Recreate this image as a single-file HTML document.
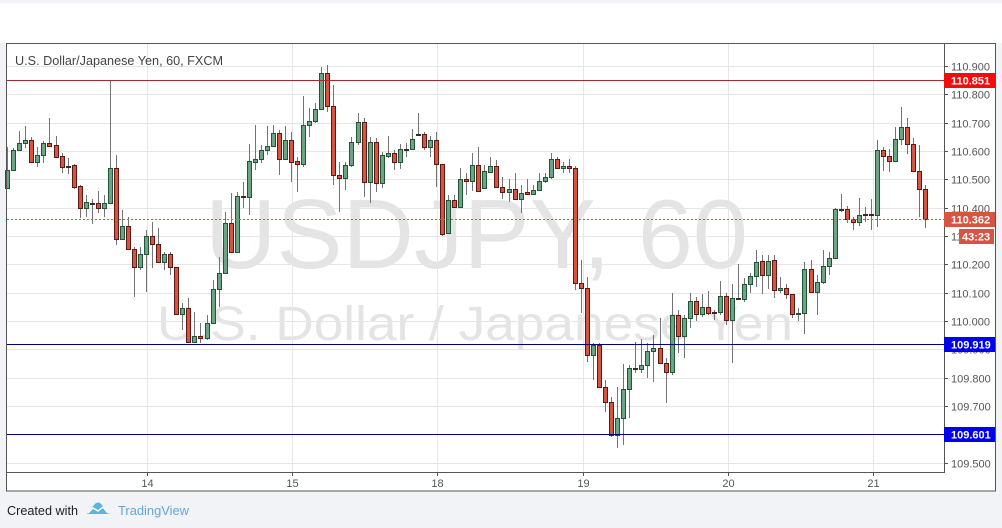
<!DOCTYPE html>
<html><head><meta charset="utf-8"><style>
html,body{margin:0;padding:0;background:#f1f3f6;}
svg{display:block;font-family:"Liberation Sans",Arial,sans-serif;}
.u{fill:#6ba583;stroke:#225437;stroke-width:1}
.d{fill:#d75442;stroke:#5b1a13;stroke-width:1}
.f{fill:#3c2a22;stroke:#3c2a22;stroke-width:1}
.pl{font-size:11px;fill:#555}
.lb{font-size:11px;fill:#fff;font-weight:bold}
</style></head><body>
<svg width="1002" height="528" viewBox="0 0 1002 528" xmlns="http://www.w3.org/2000/svg">
<rect x="0" y="0" width="1002" height="528" fill="#f1f3f6"/>
<rect x="0" y="3" width="1002" height="40" fill="#ffffff"/>
<rect x="6.5" y="43.5" width="989" height="447.5" fill="#ffffff"/>
<text x="205" y="268" font-size="98" fill="#e4e4e4" textLength="543" lengthAdjust="spacingAndGlyphs">USDJPY, 60</text>
<text x="157" y="340" font-size="48" fill="#e4e4e4" textLength="636" lengthAdjust="spacingAndGlyphs">U.S. Dollar / Japanese Yen</text>
<g stroke="#e6e6e6" stroke-width="1">
<path d="M7 66.5H944M7 94.5H944M7 123.5H944M7 151.5H944M7 179.5H944M7 208.5H944M7 236.5H944M7 264.5H944M7 293.5H944M7 321.5H944M7 349.5H944M7 378.5H944M7 406.5H944M7 434.5H944M7 463.5H944"/>
<path d="M147.5 43V472M292.5 43V472M437.5 43V472M583.5 43V472M728.5 43V472M873.5 43V472"/>
</g>
<text x="15" y="65" font-size="13" fill="#444" textLength="208" lengthAdjust="spacingAndGlyphs">U.S. Dollar/Japanese Yen, 60, FXCM</text>
<path fill="none" stroke="#737375" stroke-width="1" d="M7.5 147V188M13.5 148V170M19.5 131V150M25.5 126V148M31.5 137V163M37.5 147V167M43.5 141V163M49.5 118V147M56.5 136V157M62.5 153V173M68.5 158V174M74.5 164V189M80.5 185V218M86.5 195V217M92.5 199V224M98.5 191V213M104.5 195V217M110.5 81V203M116.5 155V245M122.5 210V239M128.5 217V249M134.5 247V297M140.5 247V270M146.5 230V292M152.5 222V268M158.5 228V262M164.5 252V270M170.5 252V275M176.5 267V315M182.5 303V330M188.5 298V343M194.5 312V343M200.5 323V343M207.5 315V340M213.5 280V323M219.5 257V307M225.5 212V273M231.5 193V252M237.5 192V252M243.5 182V208M249.5 144V215M255.5 125V170M261.5 145V163M267.5 126V155M273.5 125V147M279.5 130V175M285.5 126V160M291.5 132V182M297.5 157V192M303.5 96V167M309.5 108V137M315.5 103V123M321.5 67V110M327.5 65V112M333.5 85V185M339.5 162V212M345.5 162V190M351.5 137V167M358.5 113V145M364.5 118V197M370.5 137V203M376.5 138V192M382.5 152V188M388.5 136V158M394.5 150V170M400.5 144V169M406.5 143V157M412.5 129V150M418.5 113V135M424.5 132V150M430.5 136V157M436.5 132V187M442.5 164V236M448.5 195V233M454.5 195V208M460.5 168V207M466.5 173V195M472.5 153V191M478.5 147V192M484.5 165V189M490.5 157V173M496.5 160V187M502.5 177V199M509.5 179V202M515.5 173V199M521.5 185V213M527.5 179V195M533.5 185V195M539.5 173V191M545.5 173V183M551.5 153V179M557.5 157V169M563.5 162V173M569.5 159V173M575.5 166V290M581.5 260V313M587.5 277V362M593.5 343V380M599.5 343V388M605.5 380V412M611.5 397V437M617.5 387V448M623.5 364V445M629.5 365V418M635.5 342V373M641.5 339V373M647.5 343V378M653.5 335V382M660.5 318V363M666.5 358V403M672.5 293V375M678.5 310V353M684.5 315V358M690.5 293V328M696.5 297V321M702.5 294V317M708.5 291V315M714.5 310V320M720.5 281V315M726.5 293V325M732.5 284V363M738.5 264V300M744.5 278V302M750.5 273V293M756.5 250V287M762.5 255V294M768.5 255V289M774.5 255V298M780.5 277V293M786.5 284V299M792.5 294V318M798.5 308V321M804.5 262V334M811.5 260V293M817.5 275V315M823.5 250V284M829.5 252V275M835.5 208V259M841.5 194V212M847.5 206V223M853.5 217V230M859.5 198V226M865.5 207V222M871.5 199V230M877.5 140V227M883.5 147V171M889.5 149V172M895.5 127V162M901.5 107V145M907.5 118V154M913.5 138V172M919.5 145V217M925.5 185V228"/>
<g class="u">
<rect x="5.5" y="170.5" width="4" height="18"/><rect x="11.5" y="150.5" width="4" height="20"/><rect x="17.5" y="143.5" width="4" height="7"/><rect x="23.5" y="140.5" width="4" height="3"/><rect x="35.5" y="155.5" width="4" height="7"/><rect x="41.5" y="143.5" width="4" height="12"/><rect x="84.5" y="202.5" width="4" height="6"/><rect x="102.5" y="203.5" width="4" height="5"/><rect x="108.5" y="168.5" width="4" height="35"/><rect x="120.5" y="226.5" width="4" height="13"/><rect x="138.5" y="254.5" width="4" height="13"/><rect x="144.5" y="236.5" width="4" height="18"/><rect x="162.5" y="254.5" width="4" height="8"/><rect x="180.5" y="308.5" width="4" height="6"/><rect x="192.5" y="336.5" width="4" height="6"/><rect x="205.5" y="323.5" width="4" height="15"/><rect x="211.5" y="289.5" width="4" height="34"/><rect x="217.5" y="273.5" width="4" height="16"/><rect x="223.5" y="223.5" width="4" height="50"/><rect x="235.5" y="196.5" width="4" height="56"/><rect x="247.5" y="161.5" width="4" height="36"/><rect x="253.5" y="159.5" width="4" height="3"/><rect x="259.5" y="150.5" width="4" height="9"/><rect x="265.5" y="146.5" width="4" height="4"/><rect x="271.5" y="133.5" width="4" height="13"/><rect x="283.5" y="140.5" width="4" height="19"/><rect x="301.5" y="125.5" width="4" height="39"/><rect x="307.5" y="121.5" width="4" height="4"/><rect x="313.5" y="109.5" width="4" height="12"/><rect x="319.5" y="73.5" width="4" height="36"/><rect x="343.5" y="165.5" width="4" height="13"/><rect x="349.5" y="142.5" width="4" height="23"/><rect x="356.5" y="122.5" width="4" height="20"/><rect x="368.5" y="142.5" width="4" height="40"/><rect x="380.5" y="155.5" width="4" height="28"/><rect x="386.5" y="153.5" width="4" height="3"/><rect x="398.5" y="149.5" width="4" height="13"/><rect x="410.5" y="139.5" width="4" height="10"/><rect x="428.5" y="140.5" width="4" height="7"/><rect x="446.5" y="200.5" width="4" height="33"/><rect x="458.5" y="179.5" width="4" height="28"/><rect x="470.5" y="165.5" width="4" height="16"/><rect x="482.5" y="171.5" width="4" height="17"/><rect x="488.5" y="166.5" width="4" height="6"/><rect x="507.5" y="189.5" width="4" height="3"/><rect x="519.5" y="193.5" width="4" height="6"/><rect x="531.5" y="190.5" width="4" height="4"/><rect x="537.5" y="181.5" width="4" height="9"/><rect x="543.5" y="177.5" width="4" height="4"/><rect x="549.5" y="159.5" width="4" height="18"/><rect x="561.5" y="166.5" width="4" height="2"/><rect x="591.5" y="345.5" width="4" height="10"/><rect x="615.5" y="418.5" width="4" height="17"/><rect x="621.5" y="389.5" width="4" height="29"/><rect x="627.5" y="368.5" width="4" height="21"/><rect x="639.5" y="365.5" width="4" height="4"/><rect x="645.5" y="351.5" width="4" height="14"/><rect x="651.5" y="348.5" width="4" height="3"/><rect x="670.5" y="315.5" width="4" height="57"/><rect x="682.5" y="318.5" width="4" height="18"/><rect x="688.5" y="301.5" width="4" height="17"/><rect x="700.5" y="307.5" width="4" height="7"/><rect x="718.5" y="296.5" width="4" height="16"/><rect x="730.5" y="298.5" width="4" height="22"/><rect x="742.5" y="284.5" width="4" height="15"/><rect x="748.5" y="276.5" width="4" height="8"/><rect x="754.5" y="262.5" width="4" height="14"/><rect x="766.5" y="261.5" width="4" height="14"/><rect x="778.5" y="288.5" width="4" height="2"/><rect x="796.5" y="313.5" width="4" height="1"/><rect x="802.5" y="269.5" width="4" height="44"/><rect x="815.5" y="282.5" width="4" height="10"/><rect x="821.5" y="266.5" width="4" height="16"/><rect x="827.5" y="258.5" width="4" height="8"/><rect x="833.5" y="209.5" width="4" height="49"/><rect x="857.5" y="215.5" width="4" height="7"/><rect x="875.5" y="150.5" width="4" height="65"/><rect x="893.5" y="139.5" width="4" height="22"/><rect x="899.5" y="127.5" width="4" height="12"/>
</g>
<g class="d">
<rect x="29.5" y="140.5" width="4" height="22"/><rect x="47.5" y="143.5" width="4" height="3"/><rect x="54.5" y="145.5" width="4" height="12"/><rect x="60.5" y="156.5" width="4" height="11"/><rect x="72.5" y="165.5" width="4" height="22"/><rect x="78.5" y="186.5" width="4" height="22"/><rect x="96.5" y="203.5" width="4" height="5"/><rect x="114.5" y="168.5" width="4" height="71"/><rect x="126.5" y="226.5" width="4" height="23"/><rect x="132.5" y="249.5" width="4" height="18"/><rect x="150.5" y="236.5" width="4" height="8"/><rect x="156.5" y="244.5" width="4" height="18"/><rect x="168.5" y="254.5" width="4" height="13"/><rect x="174.5" y="267.5" width="4" height="47"/><rect x="186.5" y="308.5" width="4" height="34"/><rect x="198.5" y="336.5" width="4" height="2"/><rect x="229.5" y="223.5" width="4" height="29"/><rect x="277.5" y="133.5" width="4" height="26"/><rect x="289.5" y="140.5" width="4" height="22"/><rect x="295.5" y="161.5" width="4" height="3"/><rect x="325.5" y="73.5" width="4" height="33"/><rect x="331.5" y="106.5" width="4" height="69"/><rect x="337.5" y="175.5" width="4" height="3"/><rect x="362.5" y="122.5" width="4" height="60"/><rect x="374.5" y="142.5" width="4" height="41"/><rect x="392.5" y="153.5" width="4" height="9"/><rect x="422.5" y="134.5" width="4" height="13"/><rect x="434.5" y="140.5" width="4" height="24"/><rect x="440.5" y="164.5" width="4" height="70"/><rect x="452.5" y="200.5" width="4" height="7"/><rect x="464.5" y="179.5" width="4" height="2"/><rect x="476.5" y="165.5" width="4" height="26"/><rect x="494.5" y="166.5" width="4" height="21"/><rect x="500.5" y="187.5" width="4" height="5"/><rect x="513.5" y="189.5" width="4" height="10"/><rect x="525.5" y="192.5" width="4" height="2"/><rect x="555.5" y="159.5" width="4" height="9"/><rect x="567.5" y="166.5" width="4" height="2"/><rect x="573.5" y="168.5" width="4" height="115"/><rect x="579.5" y="283.5" width="4" height="5"/><rect x="585.5" y="288.5" width="4" height="67"/><rect x="597.5" y="345.5" width="4" height="42"/><rect x="603.5" y="387.5" width="4" height="15"/><rect x="609.5" y="402.5" width="4" height="33"/><rect x="658.5" y="348.5" width="4" height="15"/><rect x="664.5" y="363.5" width="4" height="9"/><rect x="676.5" y="315.5" width="4" height="21"/><rect x="694.5" y="301.5" width="4" height="13"/><rect x="706.5" y="307.5" width="4" height="6"/><rect x="724.5" y="296.5" width="4" height="24"/><rect x="760.5" y="261.5" width="4" height="14"/><rect x="772.5" y="260.5" width="4" height="30"/><rect x="784.5" y="288.5" width="4" height="6"/><rect x="790.5" y="294.5" width="4" height="20"/><rect x="809.5" y="269.5" width="4" height="23"/><rect x="845.5" y="209.5" width="4" height="10"/><rect x="851.5" y="219.5" width="4" height="3"/><rect x="881.5" y="150.5" width="4" height="6"/><rect x="887.5" y="156.5" width="4" height="5"/><rect x="905.5" y="127.5" width="4" height="17"/><rect x="911.5" y="144.5" width="4" height="27"/><rect x="917.5" y="171.5" width="4" height="18"/><rect x="923.5" y="189.5" width="4" height="30"/>
</g>
<g class="f">
<rect x="66.5" y="166.5" width="4" height="1"/><rect x="90.5" y="203.5" width="4" height="1"/><rect x="241.5" y="196.5" width="4" height="1"/><rect x="404.5" y="149.5" width="4" height="1"/><rect x="416.5" y="134.5" width="4" height="1"/><rect x="633.5" y="368.5" width="4" height="1"/><rect x="712.5" y="312.5" width="4" height="1"/><rect x="736.5" y="298.5" width="4" height="1"/><rect x="839.5" y="209.5" width="4" height="1"/><rect x="863.5" y="214.5" width="4" height="1"/><rect x="869.5" y="214.5" width="4" height="1"/>
</g>
<path d="M7 80.5H944" stroke="#a52a2a" stroke-width="1"/>
<path d="M7 344.5H944M7 434.5H944" stroke="#000080" stroke-width="1"/>
<path d="M7 219.5H944" stroke="#d75442" stroke-width="1" stroke-dasharray="2,2"/>
<path d="M6.5 43.5H944.5V472.5H6.5Z" fill="none" stroke="#555" stroke-width="1"/>
<rect x="6.5" y="43.5" width="989" height="447.5" fill="none" stroke="#555" stroke-width="1"/>
<path stroke="#555" stroke-width="1" d="M944 66.5H948M944 94.5H948M944 123.5H948M944 151.5H948M944 179.5H948M944 208.5H948M944 236.5H948M944 264.5H948M944 293.5H948M944 321.5H948M944 349.5H948M944 378.5H948M944 406.5H948M944 434.5H948M944 463.5H948M147.5 472V476M292.5 472V476M437.5 472V476M583.5 472V476M728.5 472V476M873.5 472V476"/>
<g class="pl">
<text x="951" y="70.5">110.900</text><text x="951" y="98.5">110.800</text><text x="951" y="127.5">110.700</text><text x="951" y="155.5">110.600</text><text x="951" y="183.5">110.500</text><text x="951" y="212.5">110.400</text><text x="951" y="240.5">110.300</text><text x="951" y="268.5">110.200</text><text x="951" y="297.5">110.100</text><text x="951" y="325.5">110.000</text><text x="951" y="353.5">109.900</text><text x="951" y="382.5">109.800</text><text x="951" y="410.5">109.700</text><text x="951" y="438.5">109.600</text><text x="951" y="467.5">109.500</text>
<text x="147.5" y="487" text-anchor="middle">14</text><text x="292.5" y="487" text-anchor="middle">15</text><text x="437.5" y="487" text-anchor="middle">18</text><text x="583.5" y="487" text-anchor="middle">19</text><text x="728.5" y="487" text-anchor="middle">20</text><text x="873.5" y="487" text-anchor="middle">21</text>
</g>
<rect x="944" y="73" width="51" height="15" fill="#f20d0d"/>
<rect x="944" y="212" width="51" height="15" fill="#d75442"/>
<rect x="959" y="229" width="35" height="15" fill="#d75442"/>
<rect x="944" y="337" width="51" height="15" fill="#0000ee"/>
<rect x="944" y="427" width="51" height="15" fill="#0000ee"/>
<g class="lb">
<text x="951" y="84.5">110.851</text><text x="951" y="223.5">110.362</text><text x="962" y="240.5">43:23</text><text x="951" y="348.5">109.919</text><text x="951" y="438.5">109.601</text>
</g>
<text x="7" y="515" font-size="13" fill="#222" textLength="71" lengthAdjust="spacingAndGlyphs">Created with</text>
<path d="M87 514L94 505Q98 500 102 505L109 514Z" fill="#5db4de"/>
<path d="M88 513L93 508L98 511L103 507L108 513" fill="none" stroke="#ffffff" stroke-width="1.5"/>
<text x="118" y="515" font-size="13" fill="#62a8d5" textLength="71" lengthAdjust="spacingAndGlyphs">TradingView</text>
</svg>
</body></html>
